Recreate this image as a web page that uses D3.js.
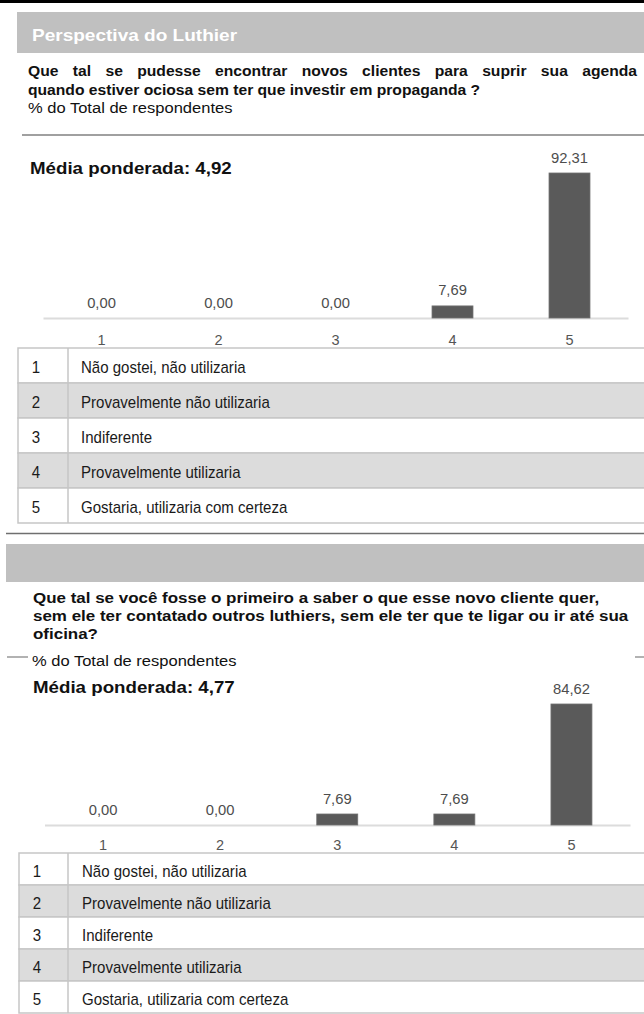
<!DOCTYPE html>
<html>
<head>
<meta charset="utf-8">
<script src="https://cdn.jsdelivr.net/npm/d3@7"></script>
<style>
  html, body { margin: 0; padding: 0; background: #fff; }
  svg { display: block; font-family: "Liberation Sans", Arial, Helvetica, sans-serif; }
</style>
</head>
<body>
<svg id="page" width="644" height="1014"></svg>
<script>
// ---- data ----
const sectionTitle = "Perspectiva do Luthier";
const subtitle = "% do Total de respondentes";
const meanPrefix = "Média ponderada: ";
const levels = ["1", "2", "3", "4", "5"];
const levelLabels = [
  "Não gostei, não utilizaria",
  "Provavelmente não utilizaria",
  "Indiferente",
  "Provavelmente utilizaria",
  "Gostaria, utilizaria com certeza"
];

const q1Lines = [
  "Que tal se pudesse encontrar novos clientes para suprir sua agenda",
  "quando estiver ociosa sem ter que investir em propaganda ?"
];
const q1Values = [0, 0, 0, 7.69, 92.31];
const q1Mean = 4.92;

const q2Lines = [
  "Que tal se você fosse o primeiro a saber o que esse novo cliente quer,",
  "sem ele ter contatado outros luthiers, sem ele ter que te ligar ou ir até sua",
  "oficina?"
];
const q2Values = [0, 0, 7.69, 7.69, 84.62];
const q2Mean = 4.77;

// ---- formatting (decimal comma) ----
const ptBR = d3.formatLocale({ decimal: ",", thousands: ".", grouping: [3], currency: ["R$", ""] });
const fmt = ptBR.format(".2f");

const W = 644;
const svg = d3.select("#page");

// text helper: horizontally scaled label anchored at (x, y)
function label(parent, x, y, str, o = {}) {
  const g = parent.append("g")
    .attr("transform", `translate(${x},${y}) scale(${o.sx || 1},1)`);
  const t = g.append("text")
    .attr("text-anchor", o.anchor || "start")
    .attr("font-size", o.size || 14)
    .attr("font-weight", o.weight || "normal")
    .attr("fill", o.fill || "#111")
    .text(str);
  if (o.justifyTo) {
    const natural = t.node().getComputedTextLength();
    const gaps = str.split(" ").length - 1;
    const target = (o.justifyTo - x) / (o.sx || 1);
    if (gaps > 0 && target > natural) {
      t.style("word-spacing", ((target - natural) / gaps) + "px");
    }
  }
  return t;
}

// top black strip
svg.append("rect").attr("x", 0).attr("y", 0).attr("width", W).attr("height", 3).attr("fill", "#000");

// ---- panel layouts ----
const panels = [
  {
    title: sectionTitle,
    header: { x: 17, y: 12, h: 41, textX: 32, textY: 41 },
    lines: q1Lines, qx: 28, qy: 76, qlh: 18.5, qsx: 1.08, justifyFirst: 637,
    subX: 28, subY: 113,
    rules: [{ x1: 22, x2: W, y: 135, c: "#a0a0a0", w: 2 }],
    meanX: 30, meanY: 174, mean: q1Mean,
    values: q1Values,
    x0: 43, x1: 628, axisY: 318, topY: 173, tickPad: 17,
    tableTop: 348, rowH: 35, tableX: 18, divX: 68, numX: 36, textX: 81
  },
  {
    title: "",
    header: { x: 6, y: 544, h: 38 },
    lines: q2Lines, qx: 33, qy: 603, qlh: 18, qsx: 1.17, justifyFirst: null,
    subX: 32, subY: 666,
    rules: [
      { x1: 7, x2: 28, y: 657, c: "#999", w: 1.5 },
      { x1: 635, x2: W, y: 657, c: "#999", w: 1.5 }
    ],
    meanX: 33, meanY: 693, mean: q2Mean,
    values: q2Values,
    x0: 44.5, x1: 630, axisY: 825, topY: 704, tickPad: 15,
    tableTop: 853, rowH: 32, tableX: 19, divX: 68, numX: 37, textX: 82
  }
];

// separator between the two panels
svg.append("line")
  .attr("x1", 6).attr("x2", W).attr("y1", 533.5).attr("y2", 533.5)
  .attr("stroke", "#6f6f6f").attr("stroke-width", 1.5);

panels.forEach(p => {
  const g = svg.append("g");

  // header band
  g.append("rect")
    .attr("x", p.header.x).attr("y", p.header.y)
    .attr("width", W - p.header.x).attr("height", p.header.h)
    .attr("fill", "#c0c0c0");
  if (p.title) {
    label(g, p.header.textX, p.header.textY, p.title,
      { size: 17, weight: "bold", fill: "#fff", sx: 1.12 });
  }

  // question text
  p.lines.forEach((line, i) => {
    label(g, p.qx, p.qy + i * p.qlh, line, {
      size: 14.5, weight: "bold", fill: "#111", sx: p.qsx,
      justifyTo: (i === 0 && p.justifyFirst && p.lines.length > 1) ? p.justifyFirst : null
    });
  });

  // rules
  p.rules.forEach(r => {
    g.append("line")
      .attr("x1", r.x1).attr("x2", r.x2).attr("y1", r.y).attr("y2", r.y)
      .attr("stroke", r.c).attr("stroke-width", r.w);
  });

  // subtitle and weighted mean
  label(g, p.subX, p.subY, subtitle, { size: 14.5, fill: "#111", sx: 1.14 });
  label(g, p.meanX, p.meanY, meanPrefix + fmt(p.mean), { size: 16, weight: "bold", fill: "#111", sx: 1.17 });

  // scales
  const x = d3.scaleBand().domain(levels).range([p.x0, p.x1]).paddingInner(0.65).paddingOuter(0.325);
  const y = d3.scaleLinear().domain([0, d3.max(p.values)]).range([p.axisY, p.topY]);
  const data = levels.map((k, i) => ({ k, v: p.values[i] }));

  // category axis
  const axis = g.append("g")
    .attr("transform", `translate(0,${p.axisY})`)
    .call(d3.axisBottom(x).tickSize(0).tickSizeOuter(0).tickPadding(p.tickPad));
  axis.select(".domain").attr("stroke", "#dcdcdc").attr("stroke-width", 2);
  axis.selectAll(".tick text")
    .attr("font-family", "\"Liberation Sans\", Arial, sans-serif")
    .attr("font-size", 14.5).attr("fill", "#555");

  // bars
  g.selectAll("rect.bar").data(data).join("rect")
    .attr("class", "bar")
    .attr("x", d => x(d.k))
    .attr("width", x.bandwidth())
    .attr("y", d => y(d.v))
    .attr("height", d => p.axisY - y(d.v))
    .attr("fill", "#5a5a5a")
    .attr("stroke", d => d.v > 0 ? "#707070" : "none")
    .attr("stroke-width", 0.8);

  // value labels
  data.forEach(d => {
    label(g, x(d.k) + x.bandwidth() / 2, y(d.v) - 10.5, fmt(d.v),
      { size: 14.5, fill: "#4d4d4d", anchor: "middle", sx: 1.02 });
  });

  // legend table
  const rows = g.selectAll("g.row").data(levelLabels).join("g")
    .attr("class", "row")
    .attr("transform", (d, i) => `translate(0,${p.tableTop + i * p.rowH})`);
  rows.append("rect")
    .attr("x", p.tableX).attr("y", 0)
    .attr("width", W + 20 - p.tableX).attr("height", p.rowH)
    .attr("fill", (d, i) => i % 2 ? "#dcdcdc" : "#fff")
    .attr("stroke", "#c6c6c6").attr("stroke-width", 1.5);
  rows.append("line")
    .attr("x1", p.divX).attr("x2", p.divX).attr("y1", 0).attr("y2", p.rowH)
    .attr("stroke", "#c6c6c6").attr("stroke-width", 1.5);
  rows.each(function (d, i) {
    const r = d3.select(this);
    label(r, p.numX, p.rowH / 2 + 7.5, levels[i], { size: 16, fill: "#1a1a1a", anchor: "middle", sx: 0.94 });
    label(r, p.textX, p.rowH / 2 + 7.5, d, { size: 16, fill: "#1a1a1a", sx: 0.94 });
  });
});
</script>
</body>
</html>
